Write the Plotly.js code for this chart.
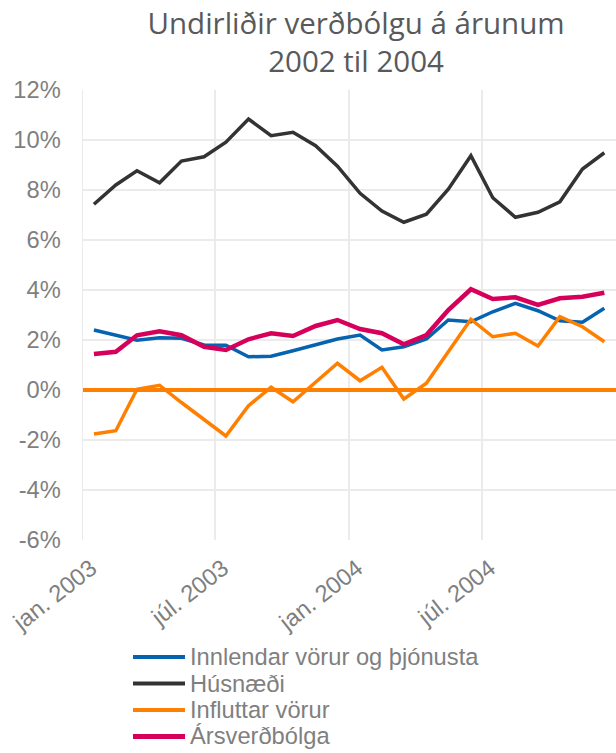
<!DOCTYPE html>
<html><head><meta charset="utf-8">
<script src="https://cdn.plot.ly/plotly-3.0.1.min.js"></script>
<style>html,body{margin:0;padding:0;background:#fff}#chart{width:616px;height:753px}</style>
</head><body><div id="chart"></div>
<script>
const months = ['2003-01-16','2003-02-15','2003-03-16','2003-04-16','2003-05-16','2003-06-16',
  '2003-07-16','2003-08-16','2003-09-16','2003-10-16','2003-11-16','2003-12-16',
  '2004-01-16','2004-02-15','2004-03-16','2004-04-16','2004-05-16','2004-06-16',
  '2004-07-16','2004-08-16','2004-09-16','2004-10-16','2004-11-16','2004-12-16'];
const innlendar = [2.40,2.20,1.99,2.09,2.07,1.80,1.79,1.33,1.35,1.57,1.80,2.04,
  2.20,1.60,1.73,2.04,2.80,2.73,3.13,3.47,3.17,2.77,2.71,3.27];
const husnaedi = [7.43,8.20,8.77,8.29,9.16,9.33,9.91,10.84,10.17,10.31,9.77,8.95,
  7.87,7.16,6.71,7.03,8.03,9.37,7.69,6.91,7.11,7.53,8.84,9.49];
const influttar = [-1.76,-1.63,0.03,0.19,-0.50,-1.18,-1.84,-0.63,0.11,-0.47,0.33,1.07,
  0.37,0.91,-0.36,0.27,1.53,2.83,2.13,2.27,1.76,2.93,2.53,1.93];
const arsverdbolga = [1.44,1.53,2.19,2.35,2.19,1.73,1.60,2.03,2.27,2.16,2.56,2.80,
  2.44,2.27,1.83,2.20,3.20,4.03,3.64,3.71,3.40,3.67,3.73,3.89];
const seriesNames = ['Innlendar vörur og þjónusta','Húsnæði','Influttar vörur','Ársverðbólga'];
const tickDates = ['2003-01-01','2003-07-01','2004-01-01','2004-07-01'];
const tickLabels = ['jan. 2003','júl. 2003','jan. 2004','júl. 2004'];
const yTickVals = [-6,-4,-2,0,2,4,6,8,10,12];
const yTickLabels = ['-6%','-4%','-2%','0%','2%','4%','6%','8%','10%','12%'];
const titleText = 'Undirliðir verðbólgu á árunum<br>2002 til 2004';

const colors = ['#0563b0','#333333','#ff7f00','#d6005b'];
const widths = [3.5,3.5,3.5,4.5];
const ys = [innlendar, husnaedi, influttar, arsverdbolga];
const traces = ys.map((y,i)=>({
  x: months, y: y, type:'scatter', mode:'lines', name: seriesNames[i],
  line:{color:colors[i], width:widths[i]}, showlegend:false
}));
const font = {family:'"Liberation Sans", Arial, sans-serif', size:23.7, color:'#7f7f7f'};

// legend drawn as shapes + annotations (plot area: x 83..616 px, y 90..540 px)
const px2x = p => (p-83)/533;
const py2y = p => (540-p)/450;
const legendRows = [657, 683.5, 710, 736.5];
const shapes = [], annotations = [];
seriesNames.forEach((n,i)=>{
  shapes.push({type:'line', xref:'paper', yref:'paper', x0:px2x(133), x1:px2x(185),
    y0:py2y(legendRows[i]), y1:py2y(legendRows[i]), line:{color:colors[i], width:widths[i]+0.5}});
  annotations.push({xref:'paper', yref:'paper', x:px2x(188), y:py2y(legendRows[i]),
    xanchor:'left', yanchor:'middle', text:n, showarrow:false, font:font});
});

const layout = {
  width:616, height:753,
  margin:{l:83, r:0, t:90, b:213, autoexpand:false},
  paper_bgcolor:'#fff', plot_bgcolor:'#fff',
  font: font,
  title:{text:titleText, font:{family:'"Open Sans", sans-serif', size:29.5, color:'#595959'},
    x:0.578, xref:'container', xanchor:'center', y:1-34/753, yref:'container', yanchor:'top'},
  xaxis:{type:'date', range:['2003-01-01','2005-01-01'], tickvals:tickDates, ticktext:tickLabels,
    tickangle:-38, showgrid:true, gridcolor:'#ebebeb', gridwidth:1.5, showline:false,
    zeroline:false, ticks:'', tickfont:font, automargin:false, ticklabelstandoff:9, ticklabelshift:8},
  yaxis:{range:[-6,12], tickvals:yTickVals, ticktext:yTickLabels, showgrid:true, gridcolor:'#ebebeb',
    gridwidth:1.5, zeroline:true, zerolinecolor:'#ff7f00', zerolinewidth:4, showline:true,
    linecolor:'#ebebeb', linewidth:1.5, ticks:'', tickfont:font, automargin:false, ticklabelstandoff:16},
  showlegend:false,
  shapes: shapes,
  annotations: annotations
};
Plotly.newPlot('chart', traces, layout, {displayModeBar:false, staticPlot:true});
</script></body></html>
